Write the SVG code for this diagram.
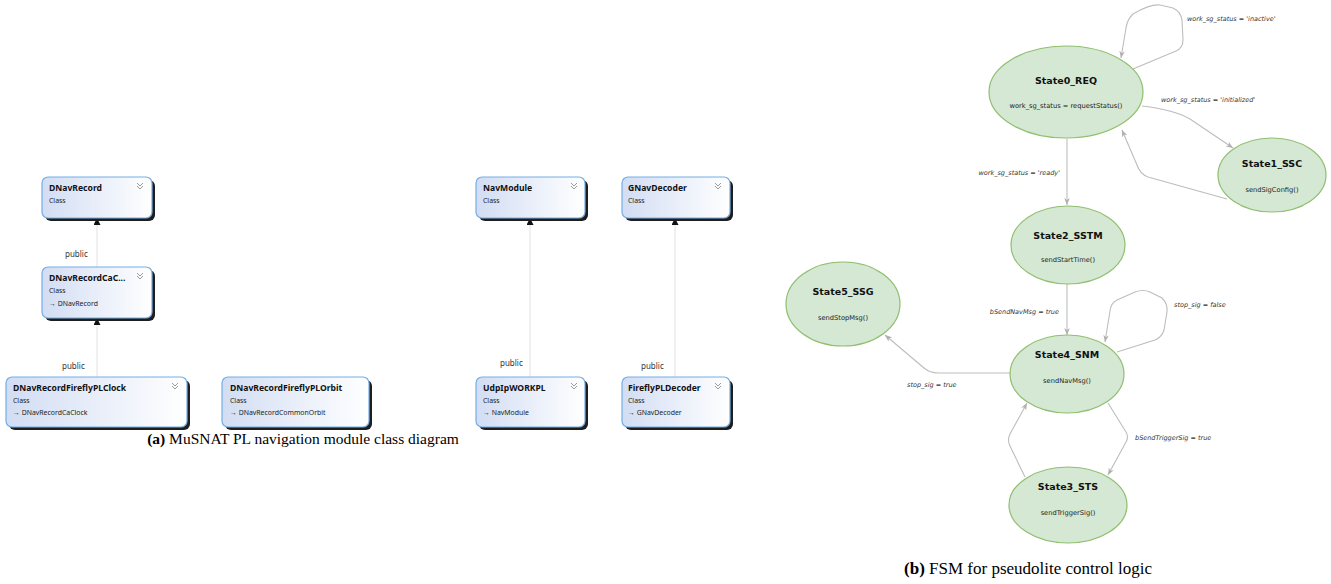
<svg xmlns="http://www.w3.org/2000/svg" width="1331" height="584" viewBox="0 0 1331 584">
  <defs>
    <linearGradient id="clsFill" x1="0" y1="0" x2="1" y2="0">
      <stop offset="0" stop-color="#d2ddf3"/>
      <stop offset="1" stop-color="#ffffff"/>
    </linearGradient>
    <marker id="inherit" viewBox="0 0 10 10" refX="10" refY="5" markerWidth="7" markerHeight="7" orient="auto" markerUnits="userSpaceOnUse">
      <path d="M0,0 L10,5 L0,10 Z" fill="#111"/>
    </marker>
    <marker id="fsmArrow" viewBox="0 0 10 10" refX="10" refY="5" markerWidth="7" markerHeight="7" orient="auto" markerUnits="userSpaceOnUse">
      <path d="M0,1 L10,5 L0,9 L3,5 Z" fill="#b0b0b0"/>
    </marker>
    <g id="chev">
      <path d="M-3,-3 L0,0 L3,-3 M-3,0 L0,3 L3,0" fill="none" stroke="#9a9a9a" stroke-width="1"/>
    </g>
  </defs>
  <style>
    .shadow { fill: #1e1e1e; }
    .box { fill: url(#clsFill); stroke: #74aee6; stroke-width: 1.2; }
    .ctitle { font-family: "Noto Sans", "Open Sans", sans-serif; font-weight: bold; font-size: 8.6px; fill: #111; }
    .csub { font-family: "Noto Sans", "Open Sans", sans-serif; font-size: 6.9px; fill: #222; }
    .pub { font-family: "Noto Sans", "Open Sans", sans-serif; font-size: 8px; fill: #333; }
    .inh { fill: none; stroke: #e2e2e2; stroke-width: 1; }
    .state { fill: #d5e8d4; stroke: #8fbf6f; stroke-width: 1.2; }
    .sname { font-family: "DejaVu Sans", Verdana, sans-serif; font-weight: bold; font-size: 9.5px; fill: #111; text-anchor: middle; }
    .sact { font-family: "DejaVu Sans", Verdana, sans-serif; font-size: 6.7px; fill: #222; text-anchor: middle; }
    .edge { fill: none; stroke: #bdbdbd; stroke-width: 1.1; }
    .elabel { font-family: "DejaVu Sans", Verdana, sans-serif; font-style: italic; font-size: 6.5px; fill: #333; }
    .caption { font-family: "Liberation Serif", "Times New Roman", serif; fill: #000; }
  </style>

  <rect width="1331" height="584" fill="#ffffff"/>

  <!-- class diagram: inheritance connectors -->
  <g id="class-connectors">
    <line class="inh" x1="97" y1="267" x2="97" y2="218" marker-end="url(#inherit)"/>
    <line class="inh" x1="97" y1="377" x2="97" y2="318" marker-end="url(#inherit)"/>
    <line class="inh" x1="530" y1="377" x2="530" y2="218" marker-end="url(#inherit)"/>
    <line class="inh" x1="675" y1="377" x2="675" y2="218" marker-end="url(#inherit)"/>
    <text class="pub" x="65" y="257">public</text>
    <text class="pub" x="62" y="369">public</text>
    <text class="pub" x="500" y="366">public</text>
    <text class="pub" x="641" y="369">public</text>
  </g>

  <!-- class nodes -->
  <g id="cls-DNavRecord">
    <rect class="shadow" x="45" y="180" width="110" height="41" rx="6"/>
    <rect class="box" x="42" y="177" width="110" height="41" rx="6"/>
    <text class="ctitle" x="49" y="191">DNavRecord</text>
    <text class="csub" x="49" y="203">Class</text>
    <use href="#chev" x="140" y="186"/>
  </g>
  <g id="cls-DNavRecordCaClock">
    <rect class="shadow" x="45" y="270" width="110" height="51" rx="6"/>
    <rect class="box" x="42" y="267" width="110" height="51" rx="6"/>
    <text class="ctitle" x="49" y="281">DNavRecordCaC...</text>
    <text class="csub" x="49" y="293">Class</text>
    <text class="csub" x="49" y="306">→ DNavRecord</text>
    <use href="#chev" x="140" y="276"/>
  </g>
  <g id="cls-DNavRecordFireflyPLClock">
    <rect class="shadow" x="9" y="380" width="181" height="50" rx="6"/>
    <rect class="box" x="6" y="377" width="181" height="50" rx="6"/>
    <text class="ctitle" x="13" y="391">DNavRecordFireflyPLClock</text>
    <text class="csub" x="13" y="403">Class</text>
    <text class="csub" x="13" y="415">→ DNavRecordCaClock</text>
    <use href="#chev" x="175" y="386"/>
  </g>
  <g id="cls-DNavRecordFireflyPLOrbit">
    <rect class="shadow" x="225" y="380" width="147" height="50" rx="6"/>
    <rect class="box" x="222" y="377" width="147" height="50" rx="6"/>
    <text class="ctitle" x="230" y="391">DNavRecordFireflyPLOrbit</text>
    <text class="csub" x="230" y="403">Class</text>
    <text class="csub" x="230" y="415">→ DNavRecordCommonOrbit</text>
  </g>
  <g id="cls-NavModule">
    <rect class="shadow" x="479" y="180" width="109" height="41" rx="6"/>
    <rect class="box" x="476" y="177" width="109" height="41" rx="6"/>
    <text class="ctitle" x="483" y="191">NavModule</text>
    <text class="csub" x="483" y="203">Class</text>
    <use href="#chev" x="574" y="186"/>
  </g>
  <g id="cls-GNavDecoder">
    <rect class="shadow" x="625" y="180" width="108" height="41" rx="6"/>
    <rect class="box" x="622" y="177" width="108" height="41" rx="6"/>
    <text class="ctitle" x="628" y="191">GNavDecoder</text>
    <text class="csub" x="628" y="203">Class</text>
    <use href="#chev" x="718" y="186"/>
  </g>
  <g id="cls-UdpIpWORKPL">
    <rect class="shadow" x="479" y="380" width="109" height="50" rx="6"/>
    <rect class="box" x="476" y="377" width="109" height="50" rx="6"/>
    <text class="ctitle" x="483" y="391">UdpIpWORKPL</text>
    <text class="csub" x="483" y="403">Class</text>
    <text class="csub" x="483" y="415">→ NavModule</text>
    <use href="#chev" x="574" y="386"/>
  </g>
  <g id="cls-FireflyPLDecoder">
    <rect class="shadow" x="625" y="380" width="108" height="50" rx="6"/>
    <rect class="box" x="622" y="377" width="108" height="50" rx="6"/>
    <text class="ctitle" x="628" y="391">FireflyPLDecoder</text>
    <text class="csub" x="628" y="403">Class</text>
    <text class="csub" x="628" y="415">→ GNavDecoder</text>
    <use href="#chev" x="718" y="386"/>
  </g>

  <text class="caption" x="303" y="444" font-size="15.5" text-anchor="middle"><tspan font-weight="bold">(a)</tspan> MuSNAT PL navigation module class diagram</text>

  <!-- state machine transitions -->
  <g id="fsm-transitions">
    <path class="edge" d="M1133,69 L1176,51 Q1183,48 1183,40 L1182,20 Q1181,12 1173,8 L1160,5 Q1150,4 1133,14 Q1127,20 1126,28 L1121,58" marker-end="url(#fsmArrow)"/>
    <path class="edge" d="M1142,106 Q1175,110 1190,119 L1233,148" marker-end="url(#fsmArrow)"/>
    <path class="edge" d="M1227,199 L1148,177 Q1140,174 1137,165 L1122,130" marker-end="url(#fsmArrow)"/>
    <line class="edge" x1="1067" y1="139" x2="1067" y2="205" marker-end="url(#fsmArrow)"/>
    <line class="edge" x1="1067" y1="284" x2="1067" y2="335" marker-end="url(#fsmArrow)"/>
    <path class="edge" d="M1117,352 L1155,340 Q1162,337 1164,330 L1167,312 Q1168,304 1162,298 L1150,292 Q1143,289 1135,292 L1117,300 Q1111,303 1110,311 L1105,342" marker-end="url(#fsmArrow)"/>
    <path class="edge" d="M1010,373 L938,373 Q930,373 924,368 L885,335" marker-end="url(#fsmArrow)"/>
    <path class="edge" d="M1108,403 L1126,432 Q1129,437 1126,442 L1108,475" marker-end="url(#fsmArrow)"/>
    <path class="edge" d="M1025,477 L1010,446 Q1007,440 1010,434 L1027,403" marker-end="url(#fsmArrow)"/>
    <text class="elabel" x="1187" y="21">work_sg_status = 'inactive'</text>
    <text class="elabel" x="1161" y="102">work_sg_status = 'initialized'</text>
    <text class="elabel" x="1060" y="175" text-anchor="end">work_sg_status = 'ready'</text>
    <text class="elabel" x="1059" y="314" text-anchor="end">bSendNavMsg = true</text>
    <text class="elabel" x="1174" y="307">stop_sig = false</text>
    <text class="elabel" x="907" y="387">stop_sig = true</text>
    <text class="elabel" x="1135" y="440">bSendTriggerSig = true</text>
  </g>

  <!-- states -->
  <g id="State0_REQ">
    <ellipse class="state" cx="1066" cy="92" rx="77" ry="46"/>
    <text class="sname" x="1066" y="84">State0_REQ</text>
    <text class="sact" x="1066" y="108">work_sg_status = requestStatus()</text>
  </g>
  <g id="State1_SSC">
    <ellipse class="state" cx="1272" cy="175" rx="54" ry="37"/>
    <text class="sname" x="1272" y="167">State1_SSC</text>
    <text class="sact" x="1272" y="192">sendSigConfig()</text>
  </g>
  <g id="State2_SSTM">
    <ellipse class="state" cx="1068" cy="245" rx="57" ry="39"/>
    <text class="sname" x="1068" y="239">State2_SSTM</text>
    <text class="sact" x="1068" y="262">sendStartTime()</text>
  </g>
  <g id="State4_SNM">
    <ellipse class="state" cx="1067" cy="374" rx="57" ry="39"/>
    <text class="sname" x="1067" y="358">State4_SNM</text>
    <text class="sact" x="1067" y="383">sendNavMsg()</text>
  </g>
  <g id="State5_SSG">
    <ellipse class="state" cx="843" cy="304" rx="57" ry="42"/>
    <text class="sname" x="843" y="295">State5_SSG</text>
    <text class="sact" x="843" y="320">sendStopMsg()</text>
  </g>
  <g id="State3_STS">
    <ellipse class="state" cx="1068" cy="505" rx="59" ry="38"/>
    <text class="sname" x="1068" y="490">State3_STS</text>
    <text class="sact" x="1068" y="515">sendTriggerSig()</text>
  </g>

  <text class="caption" x="1028" y="574" font-size="17" text-anchor="middle"><tspan font-weight="bold">(b)</tspan> FSM for pseudolite control logic</text>
</svg>
